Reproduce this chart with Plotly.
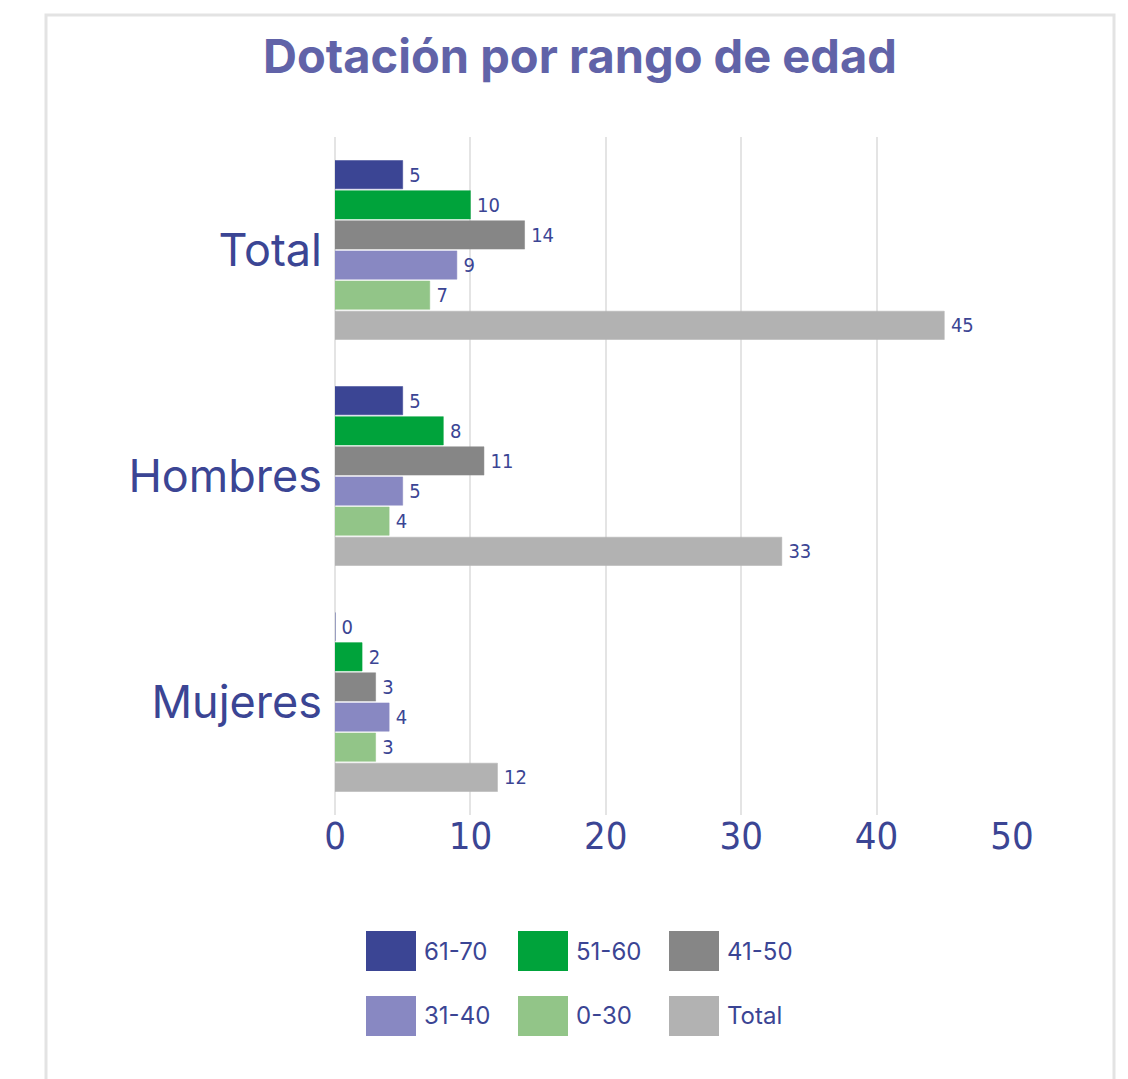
import plotly.graph_objects as go

categorias = ['Total', 'Hombres', 'Mujeres']
rangos = ['61-70', '51-60', '41-50', '31-40', '0-30', 'Total']
valores = {
    '61-70': [5, 5, 0],
    '51-60': [10, 8, 2],
    '41-50': [14, 11, 3],
    '31-40': [9, 5, 4],
    '0-30': [7, 4, 3],
    'Total': [45, 33, 12],
}
colores = ['#3b4594', '#00a33b', '#868686', '#8888c2', '#92c588', '#b2b2b2']

TXT = '#3b4594'
NARROW = '"DejaVu Sans Condensed", "Liberation Sans Narrow", "Arial Narrow", Roboto Condensed, sans-serif'
SANS = 'Inter, Lato, sans-serif'

# page body has an 8px margin, so work in page pixels minus 8
OFF = 8
W, H = 1128 - OFF, 1079 - OFF
L, R, T, B = 335 - OFF, 1012 - OFF, 137 - OFF, 815 - OFF

def px_x(p):
    return (p - OFF - L) / (R - L)

def px_y(p):
    return (B - (p - OFF)) / (B - T)

fig = go.Figure()
for rango, color in zip(rangos, colores):
    fig.add_trace(go.Bar(
        y=categorias,
        x=valores[rango],
        name=rango,
        orientation='h',
        marker=dict(color=color, line=dict(color=color, width=0.5)),
        text=valores[rango],
        texttemplate='\u2009%{text}',
        textposition='outside',
        textfont=dict(family=NARROW, size=20, color=TXT),
        cliponaxis=False,
        showlegend=False,
    ))

# frame
shapes = [dict(type='rect', xref='paper', yref='paper',
               x0=px_x(46), x1=px_x(1114), y0=px_y(1100), y1=px_y(15),
               line=dict(color='#e3e3e3', width=3), layer='below')]
annotations = []

# legend drawn as boxes + labels
leg_x = [366, 518, 669]
leg_y = [931, 996]
for i, (rango, color) in enumerate(zip(rangos, colores)):
    x0 = leg_x[i % 3]
    y0 = leg_y[i // 3]
    shapes.append(dict(type='rect', xref='paper', yref='paper',
                       x0=px_x(x0), x1=px_x(x0 + 50), y0=px_y(y0 + 40), y1=px_y(y0),
                       fillcolor=color, line=dict(width=0)))
    annotations.append(dict(text=rango, xref='paper', yref='paper',
                            x=px_x(x0 + 56), y=px_y(y0 + 20), xanchor='left', yanchor='middle',
                            showarrow=False, font=dict(family=SANS, size=24, color=TXT)))

fig.update_layout(
    width=W, height=H,
    paper_bgcolor='white', plot_bgcolor='white',
    margin=dict(l=L, r=W - R, t=T, b=H - B),
    barmode='group', bargap=0.2, bargroupgap=0.06,
    title=dict(text='<b>Dotación por rango de edad</b>', x=(580 - OFF) / W, xanchor='center',
               y=1 - (57 - OFF) / H, yanchor='middle',
               font=dict(family=SANS, size=47, color='#6163a8')),
    shapes=shapes,
    annotations=annotations,
    showlegend=False,
)
fig.update_xaxes(range=[0, 50], dtick=10, showgrid=True, gridcolor='#e4e4e4', gridwidth=2,
                 zeroline=True, zerolinecolor='#e4e4e4', zerolinewidth=2,
                 tickfont=dict(family=NARROW, size=38, color=TXT), ticklabelstandoff=-5,
                 showline=False)
fig.update_yaxes(autorange='reversed', tickfont=dict(family=SANS, size=45, color=TXT),
                 ticklabelstandoff=12, showgrid=False, showline=False)

fig.write_html('out.html')
